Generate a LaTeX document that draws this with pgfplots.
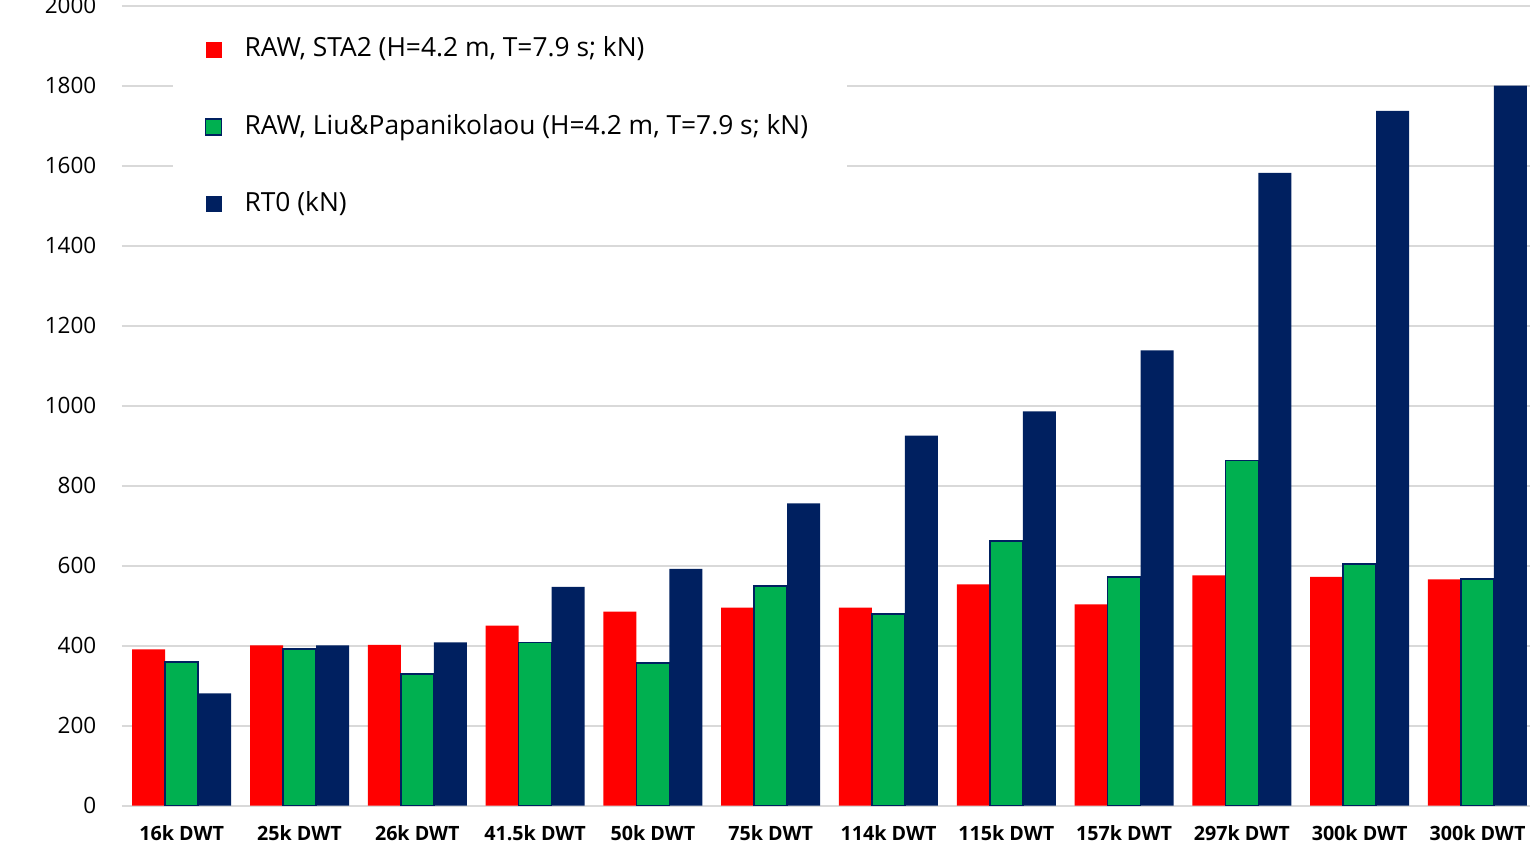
\documentclass[border=0pt]{standalone}
\usepackage{pgfplots}
\pgfplotsset{compat=1.18}
\usepackage{fontspec}
\setmainfont{Open Sans}

\definecolor{rawred}{RGB}{255,0,0}
\definecolor{rawgreen}{RGB}{0,176,80}
\definecolor{rtnavy}{RGB}{0,32,96}
\definecolor{gridgray}{RGB}{217,217,217}

% square legend marks, with room before the text
\pgfplotsset{
  sqlegend/.style={legend image code/.code={%
    \path[draw=none, fill=none] (0mm,0mm) -- (3.2mm,0mm);
    \path[##1] (0mm,-0.8mm) rectangle (1.6mm,0.8mm);}},
}

\begin{document}
\begin{tikzpicture}
\useasboundingbox (-12.2mm,-4.03mm) rectangle (140.8mm,80.57mm);
\clip (-12.2mm,-4.03mm) rectangle (140.8mm,80.57mm);
\begin{axis}[
  scale only axis,
  width=140.8mm, height=80mm,
  xmin=-0.507, xmax=11.446,
  ymin=0, ymax=2000,
  ytick={0,200,...,2000},
  xtick={0,...,11},
  xticklabels={16k DWT,25k DWT,26k DWT,41.5k DWT,50k DWT,75k DWT,114k DWT,115k DWT,157k DWT,297k DWT,300k DWT,300k DWT},
  axis line style={draw=none},
  ymajorgrids,
  major grid style={gridgray, line width=0.6pt},
  major tick length=0pt,
  /pgf/number format/assume math mode=true,
  /pgf/number format/1000 sep={},
  yticklabel style={font=\fontsize{6.4}{8}\selectfont, inner sep=0pt, xshift=-2.5mm},
  xticklabel style={font=\bfseries\fontsize{5.6}{7}\selectfont, inner sep=0pt, yshift=-1.9mm},
  ybar=0pt, bar width=3.3mm,
  legend cell align=left,
  legend style={at={(0.0355,0.995)}, anchor=north west, draw=none, fill=white,
    font=\fontsize{7.5}{9}\selectfont, row sep=3.8mm,
    inner xsep=3.2mm, inner ysep=1.95mm},
]
\addplot[fill=rawred, draw=none, sqlegend] coordinates {
  (0,391) (1,401) (2,402) (3,450) (4,485) (5,495)
  (6,495) (7,553) (8,503) (9,576) (10,572) (11,566)};
\addplot[fill=rawgreen, draw=rtnavy, line width=0.5pt, sqlegend] coordinates {
  (0,359) (1,391) (2,330) (3,408) (4,357) (5,549)
  (6,480) (7,662) (8,572) (9,863) (10,605) (11,567)};
\addplot[fill=rtnavy, draw=none, sqlegend] coordinates {
  (0,281) (1,401) (2,408) (3,547) (4,592) (5,756)
  (6,925) (7,986) (8,1138) (9,1582) (10,1737) (11,1800)};
\legend{{RAW, STA2 (H=4.2 m, T=7.9 s; kN)},
        {RAW, Liu\&Papanikolaou (H=4.2 m, T=7.9 s; kN)},
        {RT0 (kN)}}
\end{axis}
\end{tikzpicture}
\end{document}
